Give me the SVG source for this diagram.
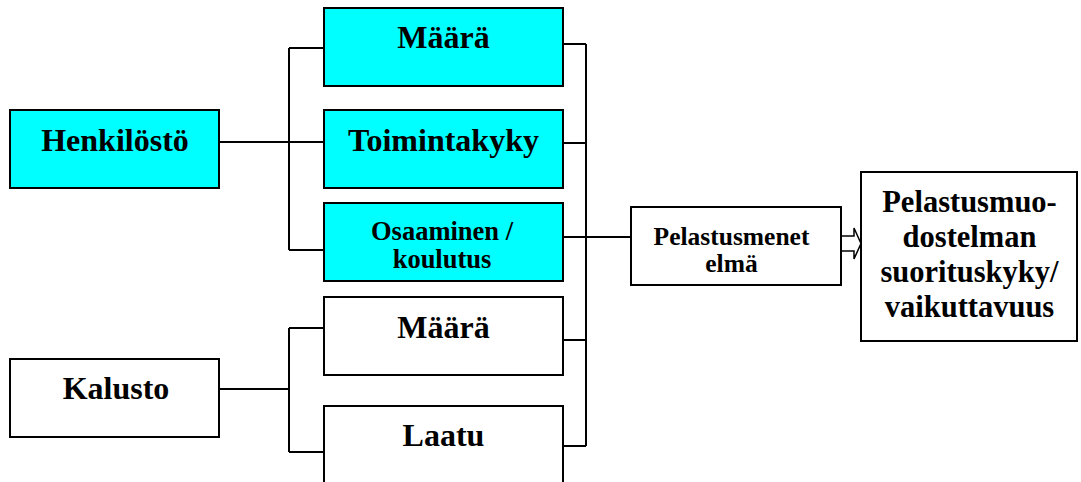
<svg xmlns="http://www.w3.org/2000/svg" width="1081" height="482" viewBox="0 0 1081 482">
<style>
.box{stroke:#000;stroke-width:2}
.cyan{fill:#00FFFF}
.white{fill:#FFFFFF}
.conn{stroke:#000;stroke-width:2;fill:none}
text{font-family:"Liberation Serif","Times New Roman",serif;font-weight:bold;fill:#000;text-anchor:middle}
.big{font-size:32px}
.mid{font-size:26.5px}
.pel{font-size:25.5px}
.res{font-size:30.5px}
</style>
<rect width="1081" height="482" fill="#FFFFFF"/>
<g id="connectors">
<path class="conn" d="M219 142 H324 M289 48 V250 M289 48 H324 M289 250 H324"/>
<path class="conn" d="M219 389 H289 M289 328 V452 M289 328 H324 M289 452 H324"/>
<path class="conn" d="M563 44 H586 M563 143 H586 M563 237 H631 M586 44 V446 M563 340 H586 M563 446 H586"/>
<polygon points="838,236 854,236 854,228 861,243.5 854,259 854,251 838,251" fill="#FFFFFF" stroke="#000" stroke-width="1.5"/>
</g>
<g id="henkilosto">
<rect class="box cyan" x="10" y="110" width="209" height="78"/>
<text class="big" x="115" y="151">Henkilöstö</text>
</g>
<g id="maara1">
<rect class="box cyan" x="324" y="8" width="239" height="78"/>
<text class="big" x="443.5" y="48">Määrä</text>
</g>
<g id="toimintakyky">
<rect class="box cyan" x="324" y="110" width="239" height="78"/>
<text class="big" x="443.5" y="151">Toimintakyky</text>
</g>
<g id="osaaminen">
<rect class="box cyan" x="324" y="203" width="239" height="78"/>
<text class="mid" x="442" y="240">Osaaminen /</text>
<text class="mid" x="442" y="268">koulutus</text>
</g>
<g id="maara2">
<rect class="box white" x="324" y="297" width="239" height="78"/>
<text class="big" x="443.5" y="338">Määrä</text>
</g>
<g id="laatu">
<rect class="box white" x="324" y="406" width="239" height="82"/>
<text class="big" x="443.5" y="446">Laatu</text>
</g>
<g id="kalusto">
<rect class="box white" x="10" y="359" width="209" height="78"/>
<text class="big" x="116" y="399">Kalusto</text>
</g>
<g id="pelastusmenetelma">
<rect class="box white" x="631" y="207" width="210" height="78"/>
<text class="pel" x="731.5" y="245">Pelastusmenet</text>
<text class="pel" x="731.5" y="272">elmä</text>
</g>
<g id="suorituskyky">
<rect class="box white" x="861" y="172" width="216" height="169"/>
<text class="res" x="969.5" y="212">Pelastusmuo-</text>
<text class="res" x="969.5" y="247">dostelman</text>
<text class="res" x="969.5" y="282">suorituskyky/</text>
<text class="res" x="969.5" y="317">vaikuttavuus</text>
</g>
</svg>
